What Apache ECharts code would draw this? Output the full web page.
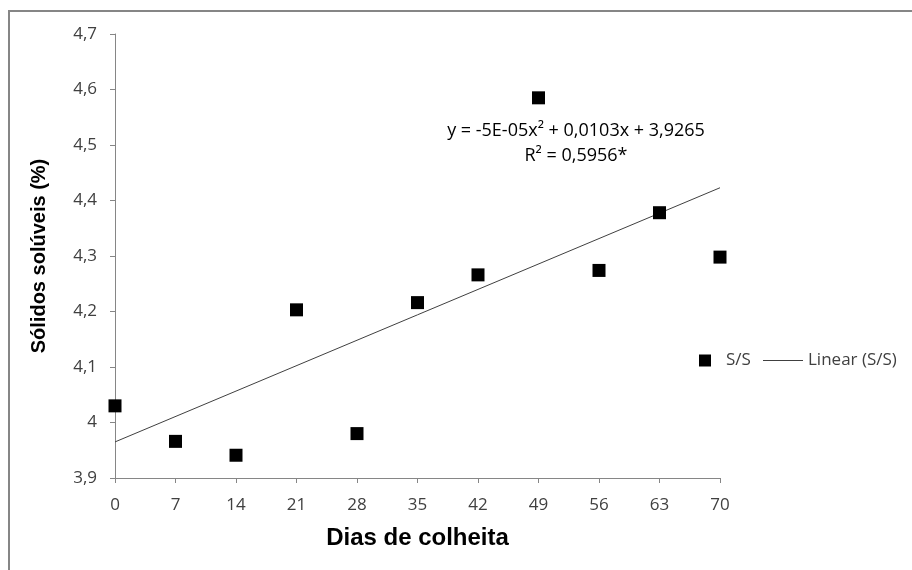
<!DOCTYPE html>
<html>
<head>
<meta charset="utf-8">
<script src="https://cdn.jsdelivr.net/npm/echarts@6/dist/echarts.min.js"></script>
<style>
	html, body { margin: 0; padding: 0; background: #fff; }
	#chart { width: 912px; height: 570px; }
</style>
</head>
<body>
<div id="chart"></div>
<script>
	// dias de colheita e sólidos solúveis
	var dias = [0, 7, 14, 21, 28, 35, 42, 49, 56, 63, 70];
	var solidos = [4.030, 3.966, 3.941, 4.203, 3.980, 4.216, 4.266, 4.585, 4.274, 4.378, 4.298];
	var linearX = [0, 70];
	var linearY = [3.965, 4.423];
	var equacao = ['y = -5E-05x² + 0,0103x + 3,9265', 'R² = 0,5956*'];

	var chart = echarts.init(document.getElementById('chart'));
	var fonte = '"Open Sans", "Noto Sans", sans-serif';

	var option = {
		backgroundColor: '#fff',
		animation: false,
		grid: {
			left: 115,
			right: 192,
			top: 34,
			bottom: 92
		},
		xAxis: {
			type: 'value',
			min: 0,
			max: 70,
			interval: 7,
			name: 'Dias de colheita',
			nameLocation: 'middle',
			nameGap: 48,
			nameTextStyle: {
				fontFamily: '"Liberation Sans", Arial, sans-serif',
				fontWeight: 'bold',
				fontSize: 24,
				color: '#000'
			},
			axisLine: { lineStyle: { color: '#868686', width: 1 } },
			axisTick: { show: true, length: 5, lineStyle: { color: '#868686' } },
			splitLine: { show: false },
			axisLabel: {
				margin: 19,
				fontFamily: fonte,
				fontSize: 17,
				color: '#404040'
			}
		},
		yAxis: {
			type: 'value',
			min: 3.9,
			max: 4.7,
			interval: 0.1,
			name: 'Sólidos solúveis (%)',
			nameLocation: 'middle',
			nameGap: 66,
			nameTextStyle: {
				fontFamily: '"Liberation Sans", Arial, sans-serif',
				fontWeight: 'bold',
				fontSize: 20,
				color: '#000'
			},
			axisLine: { show: true, lineStyle: { color: '#868686', width: 1 } },
			axisTick: { show: true, length: 5, lineStyle: { color: '#868686' } },
			splitLine: { show: false },
			axisLabel: {
				margin: 18,
				fontFamily: fonte,
				fontSize: 17,
				color: '#404040',
				formatter: function(v) {
					return (Math.round(v * 10) / 10 + '').replace('.', ',');
				}
			}
		},
		legend: [{
			data: ['S/S'],
			left: 694,
			top: 347,
			icon: 'rect',
			itemWidth: 12,
			itemHeight: 12,
			textStyle: { fontFamily: fonte, fontSize: 17, color: '#404040', padding: [0, 0, 0, 10] }
		}, {
			data: [{ name: 'Linear (S/S)', icon: 'path://M0 0H40V1H0Z' }],
			left: 758,
			top: 347,
			itemWidth: 40,
			itemHeight: 1,
			textStyle: { fontFamily: fonte, fontSize: 17, color: '#404040' }
		}],
		graphic: [{
			type: 'rect',
			shape: { x: 9, y: 11, width: 920, height: 580 },
			style: { fill: 'none', stroke: '#868686', lineWidth: 2 },
			silent: true
		}, {
			type: 'text',
			x: 576,
			y: 118,
			style: {
				text: equacao[0] + '\n' + equacao[1],
				align: 'center',
				font: '18px ' + fonte,
				fill: '#000',
				lineHeight: 25
			},
			silent: true
		}],
		series: [{
			name: 'Linear (S/S)',
			type: 'line',
			data: linearX.map(function(x, i) { return [x, linearY[i]]; }),
			symbol: 'none',
			lineStyle: { color: '#404040', width: 1 },
			itemStyle: { color: '#404040' },
			z: 1
		}, {
			name: 'S/S',
			type: 'scatter',
			data: dias.map(function(x, i) { return [x, solidos[i]]; }),
			symbol: 'rect',
			symbolSize: 13,
			itemStyle: { color: '#000', opacity: 1 },
			z: 2
		}]
	};

	chart.setOption(option);
</script>
</body>
</html>
